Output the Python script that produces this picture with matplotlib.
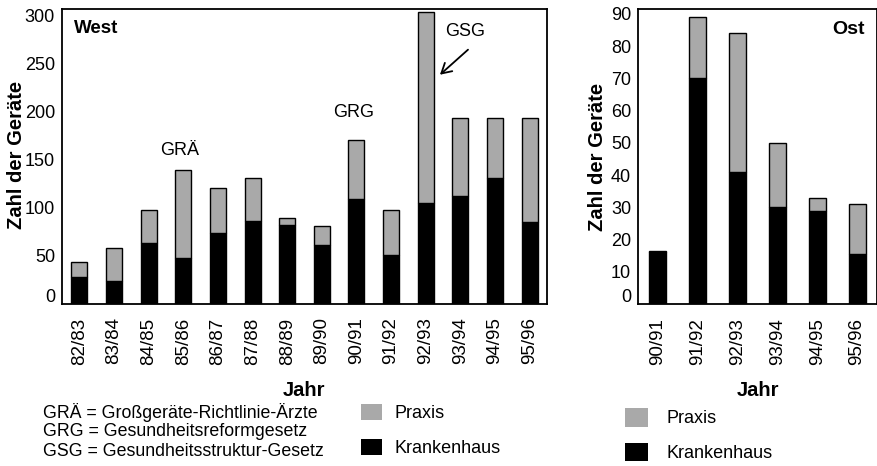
import matplotlib
matplotlib.use("Agg")
import matplotlib.pyplot as plt
from matplotlib.transforms import ScaledTranslation
from matplotlib.patches import Patch

plt.rcParams['font.family'] = ['Liberation Sans', 'DejaVu Sans']

# ---- data ----
west_years = ["82/83", "83/84", "84/85", "85/86", "86/87", "87/88", "88/89",
              "89/90", "90/91", "91/92", "92/93", "93/94", "94/95", "95/96"]
west_krankenhaus = [28, 23, 63, 47, 74, 86, 82, 61, 109, 51, 105, 112, 131, 85]
west_praxis = [15, 35, 34, 92, 46, 45, 7, 20, 61, 46, 199, 81, 62, 108]

ost_years = ["90/91", "91/92", "92/93", "93/94", "94/95", "95/96"]
ost_krankenhaus = [16, 70, 41, 30, 29, 15.5]
ost_praxis = [0.5, 19, 43, 20, 4, 15.5]

west_yticks = [0, 50, 100, 150, 200, 250, 300]
ost_yticks = [0, 10, 20, 30, 40, 50, 60, 70, 80, 90]

law_labels = ["GRÄ", "GRG", "GSG"]
law_texts = ["GRÄ = Großgeräte-Richtlinie-Ärzte",
             "GRG = Gesundheitsreformgesetz",
             "GSG = Gesundheitsstruktur-Gesetz"]

GREY = '#a9a9a9'
W, H = 878, 466
fig = plt.figure(figsize=(W / 100, H / 100), dpi=100)


def fx(x):
    return x / W


def fy(y):
    return 1 - y / H


def style_axis(ax, xlabels, yticks):
    for s in ax.spines.values():
        s.set_linewidth(1.3)
        s.set_color('black')
    ax.set_xticks(range(len(xlabels)))
    ax.set_xticklabels(xlabels, rotation=90, fontsize=13.5)
    ax.set_yticks(yticks)
    ax.set_yticklabels([str(t) for t in yticks], fontsize=13)
    ax.tick_params(axis='x', length=0, pad=10)
    ax.tick_params(axis='y', length=0, pad=5)
    # raise the "0" label a little, as in the original
    lab0 = ax.get_yticklabels()[0]
    lab0.set_transform(lab0.get_transform() +
                       ScaledTranslation(0, 8 / 100, fig.dpi_scale_trans))


# ---- West ----
axw = fig.add_axes([fx(62), fy(303.5), fx(485), 294.5 / H])
xw = range(len(west_years))
axw.bar(xw, west_krankenhaus, width=0.46, color='black', edgecolor='black',
        linewidth=1.0, label='Krankenhaus')
axw.bar(xw, west_praxis, bottom=west_krankenhaus, width=0.46, color=GREY,
        edgecolor='black', linewidth=1.0, label='Praxis')
axw.set_xlim(-0.5, 13.5)
axw.set_ylim(0, 307)
style_axis(axw, west_years, west_yticks)
axw.text(0.025, 0.935, "West", transform=axw.transAxes, fontsize=13.5,
         fontweight='bold', ha='left', va='center')
axw.text(2.9, 160, law_labels[0], fontsize=13, ha='center', va='center')
axw.text(7.93, 199, law_labels[1], fontsize=13, ha='center', va='center')
axw.text(11.13, 284, law_labels[2], fontsize=13, ha='center', va='center')
axw.annotate('', xy=(10.41, 238.5), xytext=(11.22, 264.6),
             arrowprops=dict(arrowstyle='->,head_length=0.7,head_width=0.4',
                             lw=1.3, color='black', shrinkA=0, shrinkB=0))

# ---- Ost ----
axo = fig.add_axes([fx(638), fy(304), 239 / W, 295 / H])
xo = range(len(ost_years))
axo.bar(xo, ost_krankenhaus, width=0.43, color='black', edgecolor='black',
        linewidth=1.0)
axo.bar(xo, ost_praxis, bottom=ost_krankenhaus, width=0.43, color=GREY,
        edgecolor='black', linewidth=1.0)
axo.set_xlim(-0.5, 5.5)
axo.set_ylim(0, 91.5)
style_axis(axo, ost_years, ost_yticks)
axo.text(0.95, 0.93, "Ost", transform=axo.transAxes, fontsize=14,
         fontweight='bold', ha='right', va='center')

# ---- axis titles ----
fig.text(fx(17), fy(155), "Zahl der Geräte", rotation=90, fontsize=14.5,
         fontweight='bold', ha='center', va='center')
fig.text(fx(598), fy(157), "Zahl der Geräte", rotation=90, fontsize=14.5,
         fontweight='bold', ha='center', va='center')
fig.text(fx(304), fy(391), "Jahr", fontsize=14.5, fontweight='bold',
         ha='center', va='center')
fig.text(fx(757.5), fy(391), "Jahr", fontsize=14.5, fontweight='bold',
         ha='center', va='center')

# ---- abbreviations ----
for t, yy in zip(law_texts, [412, 431, 451]):
    fig.text(fx(43), fy(yy), t, fontsize=12.8, ha='left', va='center')

# ---- legends ----
handles = [Patch(facecolor=GREY, edgecolor='none'),
           Patch(facecolor='black', edgecolor='none')]
labels = ["Praxis", "Krankenhaus"]
fig.legend(handles, labels, loc='upper left',
           bbox_to_anchor=(fx(361), fy(404)), frameon=False,
           fontsize=13, handlelength=1.15, handleheight=0.95,
           handletextpad=0.7, labelspacing=0.95, borderpad=0,
           borderaxespad=0)
fig.legend(handles, labels, loc='upper left',
           bbox_to_anchor=(fx(625), fy(408)), frameon=False,
           fontsize=13, handlelength=1.3, handleheight=1.2,
           handletextpad=1.0, labelspacing=0.85, borderpad=0,
           borderaxespad=0)

fig.savefig("out.png", dpi=100)
